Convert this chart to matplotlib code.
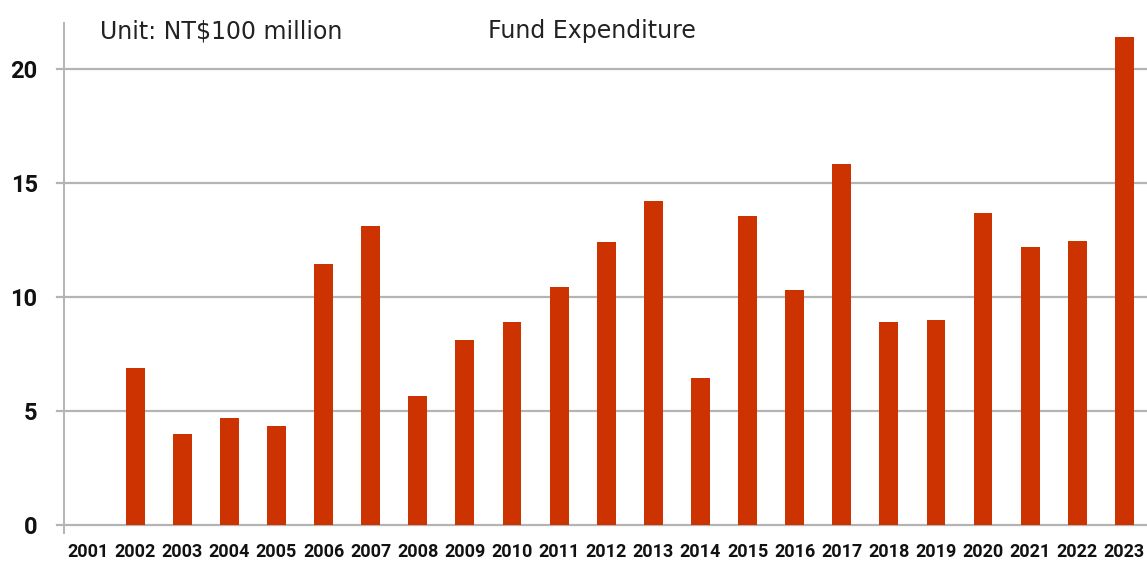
import matplotlib.pyplot as plt

years = [str(y) for y in range(2001, 2024)]
expenditure = [0, 6.89, 3.99, 4.69, 4.34, 11.45, 13.11, 5.66, 8.11, 8.90, 10.44,
               12.41, 14.21, 6.45, 13.55, 10.31, 15.83, 8.90, 8.99, 13.68, 12.19,
               12.46, 21.40]
y_ticks = [0, 5, 10, 15, 20]


def main():
    fig = plt.figure(figsize=(11.47, 5.68), dpi=100)
    ax = fig.add_axes([0.0558, 0.0616, 0.9442, 0.898])

    x = list(range(len(years)))
    ax.bar(x, expenditure, width=0.4, color='#cc3300', zorder=3)

    ax.set_xlim(-0.51, 22.48)
    ax.set_ylim(-0.35, 22.02)
    ax.set_yticks(y_ticks)
    ax.set_xticks(x)
    ax.set_xticklabels(years)

    # horizontal grid, poking slightly past the left axis line
    for v in y_ticks:
        ax.axhline(v, color='#b4b4b4', lw=1.6, zorder=1, xmin=-0.0065, clip_on=False)

    for side in ['top', 'right', 'bottom']:
        ax.spines[side].set_visible(False)
    ax.spines['left'].set_color('#b4b4b4')
    ax.spines['left'].set_linewidth(1.4)

    ax.tick_params(axis='both', length=0)
    ax.tick_params(axis='y', pad=19)
    ax.tick_params(axis='x', pad=7)
    for lbl in ax.get_yticklabels() + ax.get_xticklabels():
        lbl.set_fontfamily('Roboto')
        lbl.set_fontweight('bold')
        lbl.set_color('#111111')
    for lbl in ax.get_yticklabels():
        lbl.set_fontsize(17)
    for lbl in ax.get_xticklabels():
        lbl.set_fontsize(13)

    fig.text(100 / 1147, 1 - 31 / 568, 'Unit: NT$100 million', fontsize=17,
             va='center', ha='left', color='#222222', family='DejaVu Sans')
    fig.text(488 / 1147, 1 - 31 / 568, 'Fund Expenditure', fontsize=17,
             va='center', ha='left', color='#222222', family='DejaVu Sans')

    fig.savefig('out.png', dpi=100)


if __name__ == '__main__':
    main()
